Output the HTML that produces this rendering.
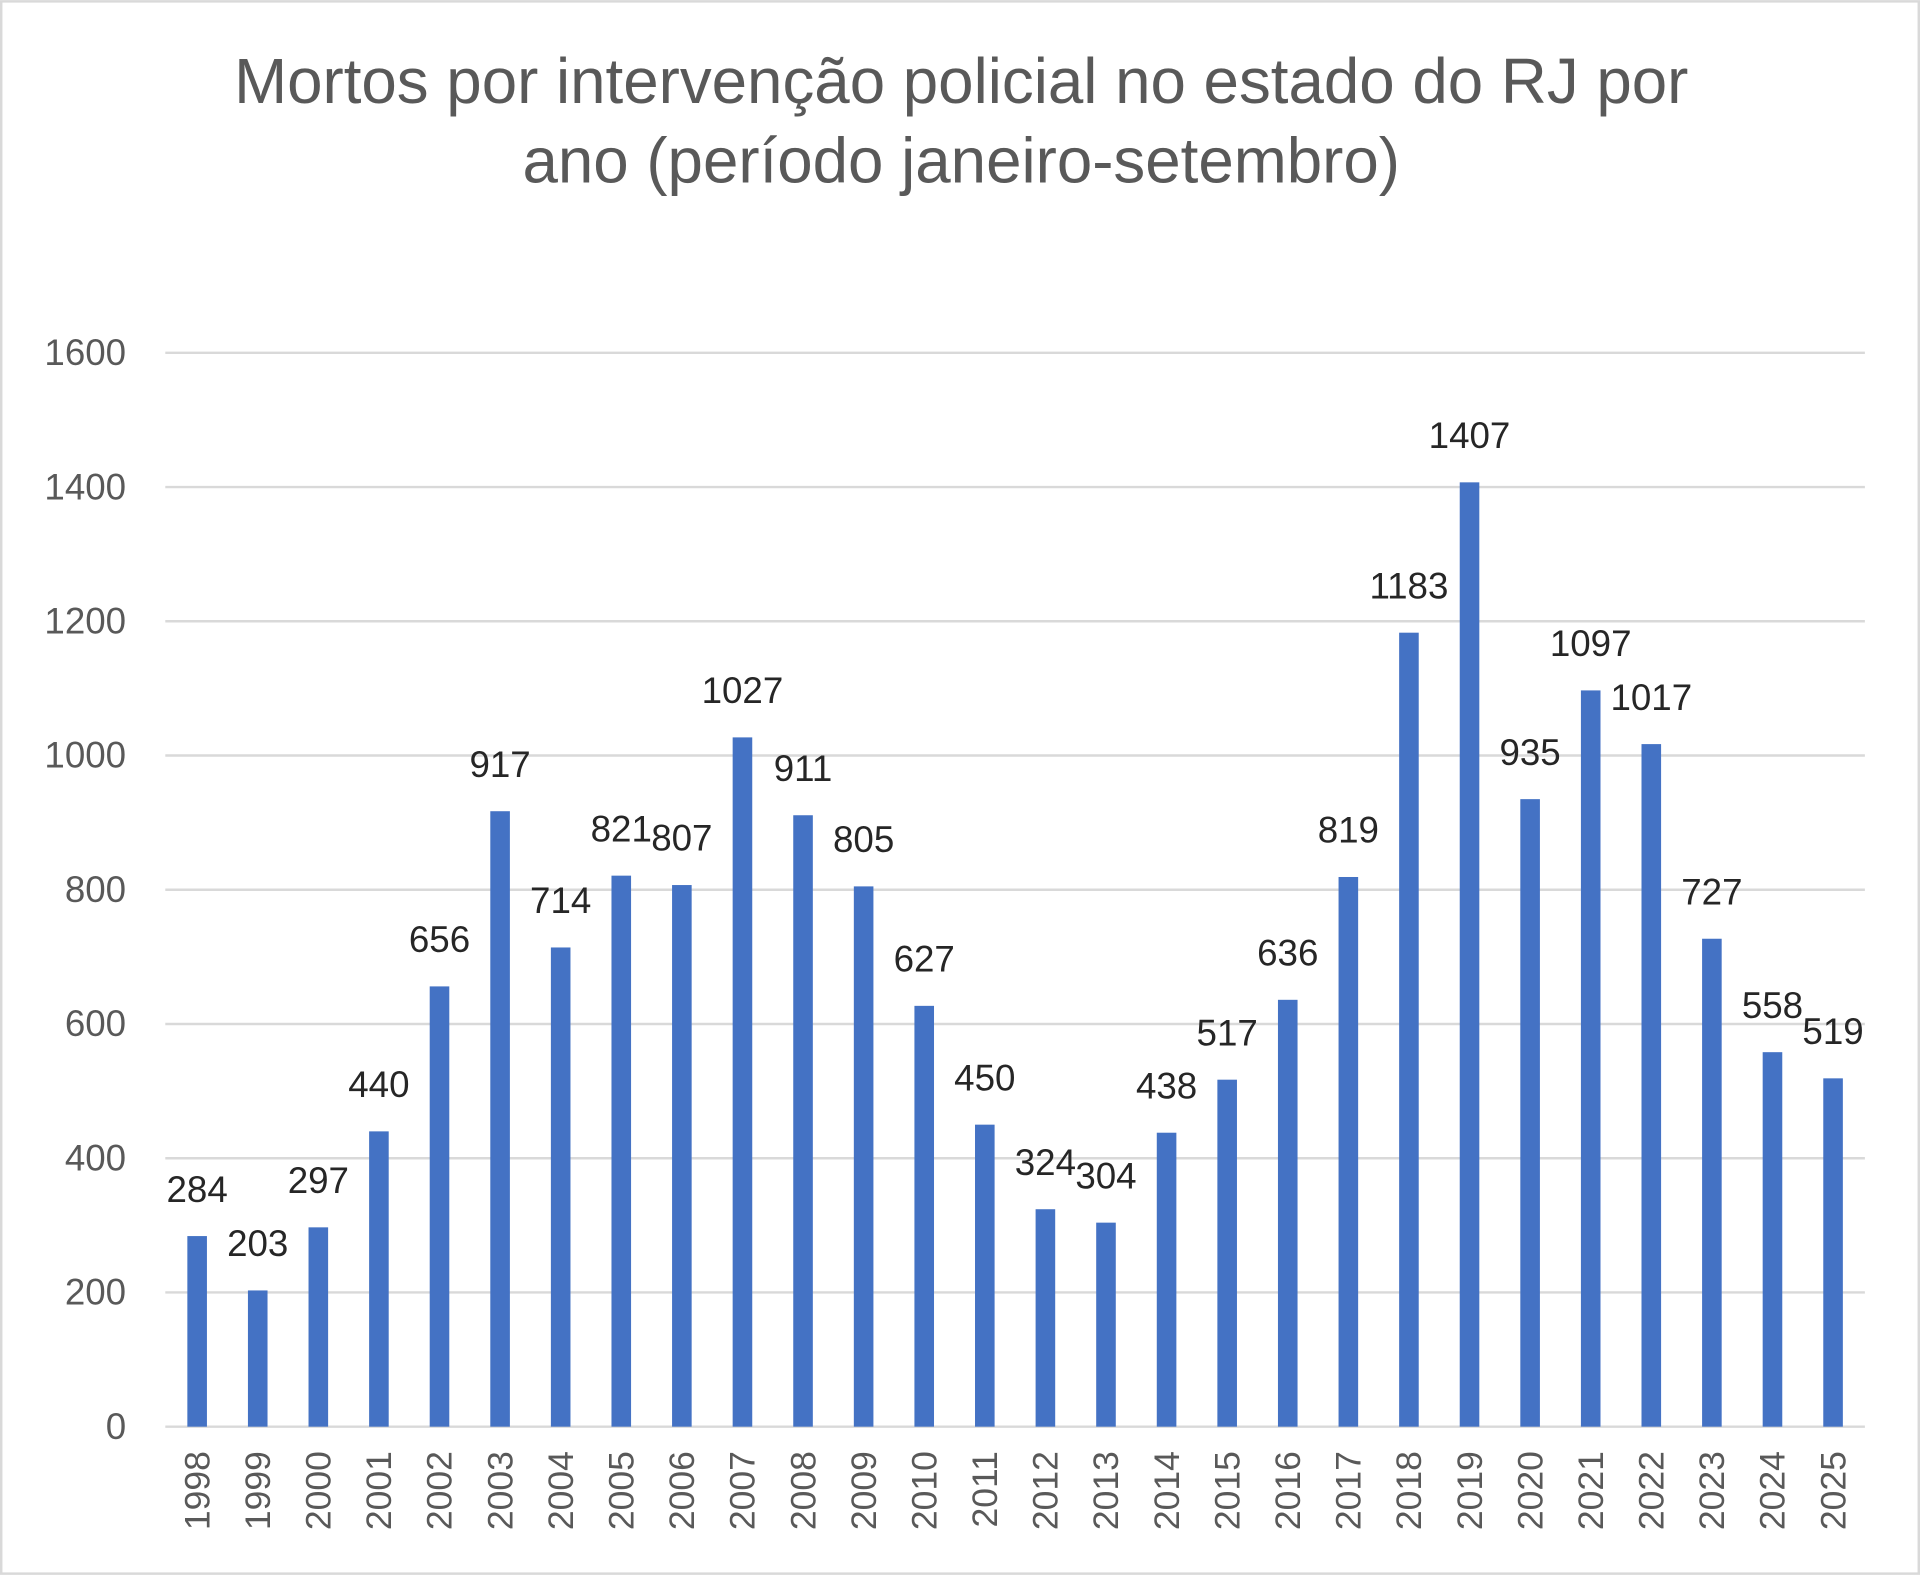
<!DOCTYPE html>
<html><head><meta charset="utf-8"><style>
html,body{margin:0;padding:0;background:#fff}
svg{display:block}
text{font-family:"Liberation Sans",sans-serif}
</style></head><body>
<svg id="chart" width="1920" height="1575" viewBox="0 0 1568 1286" xmlns="http://www.w3.org/2000/svg">
<rect x="1" y="1" width="1566" height="1284" fill="#fff" stroke="#d9d9d9" stroke-width="2"/>
<text x="785" y="84" text-anchor="middle" font-size="52" fill="#595959">Mortos por intervenção policial no estado do RJ por</text>
<text x="785" y="149" text-anchor="middle" font-size="52" fill="#595959">ano (período janeiro-setembro)</text>
<g id="grid"></g><g id="bars"></g><g id="labels"></g>
</svg>
<script>
const years=["1998","1999","2000","2001","2002","2003","2004","2005","2006","2007","2008","2009","2010","2011","2012","2013","2014","2015","2016","2017","2018","2019","2020","2021","2022","2023","2024","2025"];
const values=[284,203,297,440,656,917,714,821,807,1027,911,805,627,450,324,304,438,517,636,819,1183,1407,935,1097,1017,727,558,519];
const yTicks=[0,200,400,600,800,1000,1200,1400,1600];
const NS="http://www.w3.org/2000/svg";
const y=v=>1165-v*(1165-288)/1600;
const x=i=>161+i*(1497-161)/(years.length-1);
function mk(t,a,p,txt){const e=document.createElementNS(NS,t);for(const k in a)e.setAttribute(k,a[k]);if(txt!==undefined)e.textContent=txt;p.appendChild(e);return e;}
const g=document.getElementById('grid'),b=document.getElementById('bars'),l=document.getElementById('labels');
yTicks.forEach(v=>{
 const ln=mk('line',{x1:135,x2:1523,y1:y(v),y2:y(v),stroke:'#d9d9d9','stroke-width':2},g);
 
 
 const t=mk('text',{x:103,y:y(v)+10,'text-anchor':'end','font-size':30,fill:'#595959'},g,v);
 
 
});
years.forEach((yr,i)=>{
 const r=mk('rect',{x:x(i)-8,y:y(values[i]),width:16,height:y(0)-y(values[i]),fill:'#4472C4'},b);
 
 
 const v=mk('text',{x:x(i),y:y(values[i])-28,'text-anchor':'middle','font-size':30,fill:'#262626'},l,values[i]);
 
 
 const t=mk('text',{x:0,y:0,'text-anchor':'end','font-size':29,fill:'#595959',transform:`translate(${x(i)+10},1185) rotate(-90)`},l,yr);
 
 
});
</script>
</body></html>
